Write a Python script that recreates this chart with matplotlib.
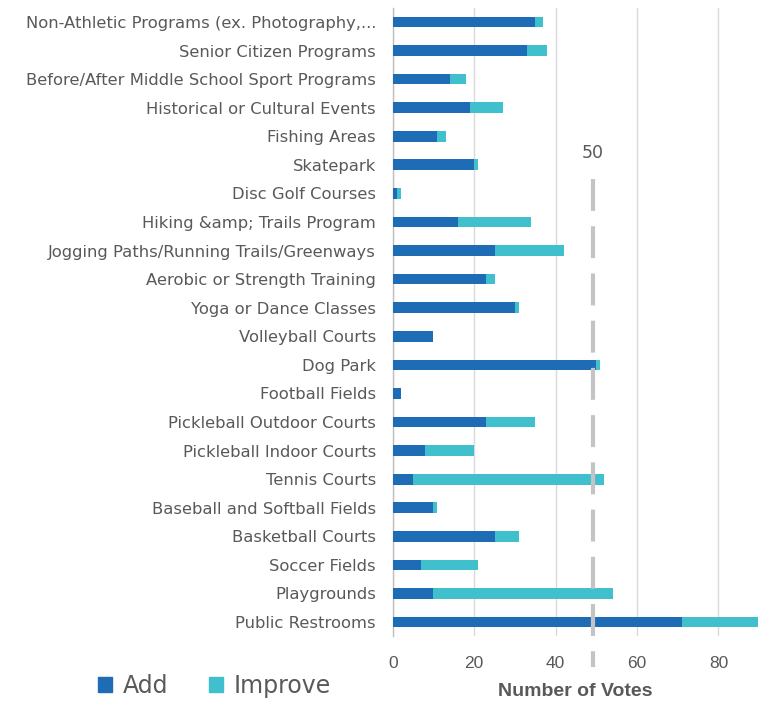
import matplotlib
matplotlib.use("Agg")
import matplotlib.pyplot as plt
import matplotlib.transforms as mtransforms
from matplotlib.patches import Patch

plt.rcParams['font.family'] = ['DejaVu Sans']
plt.rcParams['lines.scale_dashes'] = False

categories = [
    "Non-Athletic Programs (ex. Photography,...",
    "Senior Citizen Programs",
    "Before/After Middle School Sport Programs",
    "Historical or Cultural Events",
    "Fishing Areas",
    "Skatepark",
    "Disc Golf Courses",
    "Hiking &amp; Trails Program",
    "Jogging Paths/Running Trails/Greenways",
    "Aerobic or Strength Training",
    "Yoga or Dance Classes",
    "Volleyball Courts",
    "Dog Park",
    "Football Fields",
    "Pickleball Outdoor Courts",
    "Pickleball Indoor Courts",
    "Tennis Courts",
    "Baseball and Softball Fields",
    "Basketball Courts",
    "Soccer Fields",
    "Playgrounds",
    "Public Restrooms",
]
add_votes = [35, 33, 14, 19, 11, 20, 1, 16, 25, 23, 30, 10, 50, 2, 23, 8, 5, 10, 25, 7, 10, 71]
improve_votes = [2, 5, 4, 8, 2, 1, 1, 18, 17, 2, 1, 0, 1, 0, 12, 12, 47, 1, 6, 14, 44, 20]
xticks = [0, 20, 40, 60, 80]
ref_value = 49.2
ref_label = "50"

ADD_C = "#1f6cb6"
IMP_C = "#40c0cc"
TXT = "#595959"

W, H = 758, 703
fig = plt.figure(figsize=(W / 100, H / 100), dpi=100)
left, right, top, bottom = 392.7, 758, 7.7, 636.3
ax = fig.add_axes([left / W, 1 - bottom / H, (right - left) / W, (bottom - top) / H])

y = list(range(len(categories)))
ax.barh(y, add_votes, height=0.375, color=ADD_C, zorder=3)
ax.barh(y, improve_votes, left=add_votes, height=0.375, color=IMP_C, zorder=3)

ax.set_ylim(len(categories) - 0.5, -0.5)
ax.set_xlim(0, 89.7)
ax.set_yticks(y)
ax.set_yticklabels(categories, fontsize=11.8, color=TXT)
ax.set_xticks(xticks)
ax.set_xticklabels([str(v) for v in xticks], fontsize=12.5, color=TXT,
                   family=['Liberation Sans', 'DejaVu Sans'])
ax.tick_params(axis='y', length=0, pad=12)
ax.tick_params(axis='x', length=0, pad=14)
ax.xaxis.grid(True, color="#d9d9d9", lw=1, zorder=0)
ax.set_axisbelow(True)
for s in ['top', 'right', 'bottom']:
    ax.spines[s].set_visible(False)
ax.spines['left'].set_color("#bfbfbf")
ax.spines['left'].set_linewidth(1)

ax.set_xlabel("Number of Votes", fontsize=14, fontweight='bold', color=TXT,
              family=['Liberation Sans', 'DejaVu Sans'], labelpad=9)

# reference dashed line
tr = mtransforms.blended_transform_factory(ax.transData, ax.transAxes)
y_top = (bottom - 179) / (bottom - top)
y_bot = (bottom - 667) / (bottom - top)
ax.plot([ref_value, ref_value], [y_top, y_bot], transform=tr, color="#c4c4c4",
        lw=3, linestyle=(0, (23, 11)), clip_on=False, zorder=4,
        dash_capstyle='butt')
ax.text(ref_value, (bottom - 153) / (bottom - top), ref_label, transform=tr,
        ha='center', va='center', fontsize=12.5, color=TXT)

handles = [Patch(color=ADD_C, label="Add"), Patch(color=IMP_C, label="Improve")]
fig.legend(handles=handles, loc='center left', bbox_to_anchor=(77 / W, 1 - 686 / H),
           ncol=2, frameon=False, fontsize=17, labelcolor=TXT,
           handlelength=0.6, handleheight=0.6, handletextpad=0.45, columnspacing=1.7)

fig.savefig("out.png", dpi=100)
